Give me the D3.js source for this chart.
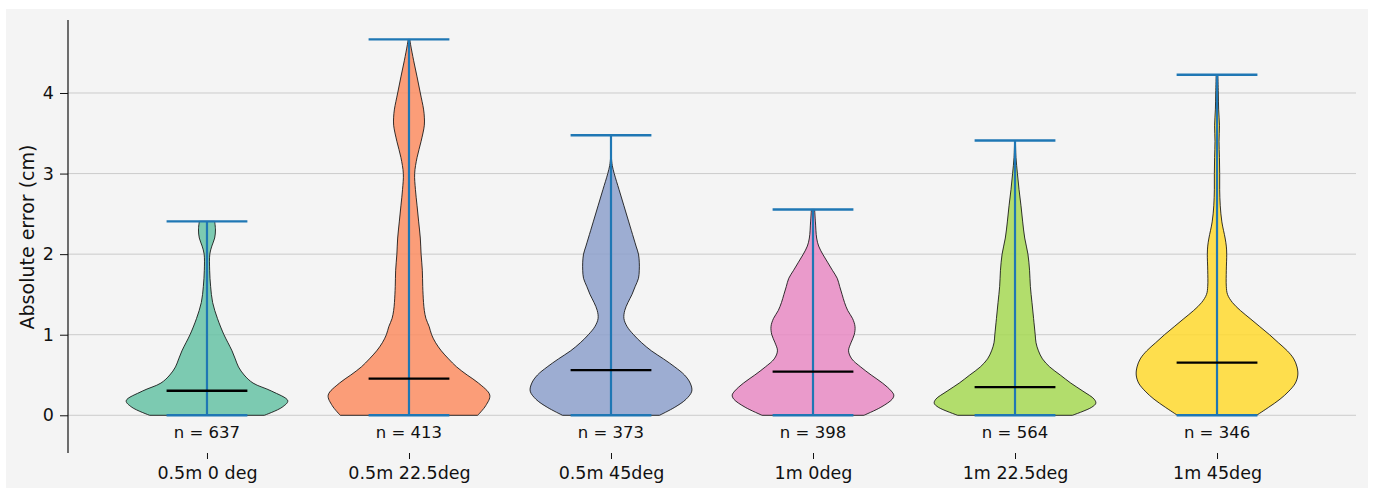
<!DOCTYPE html>
<html>
<head>
<meta charset="utf-8">
<script src="https://cdn.jsdelivr.net/npm/d3@7/dist/d3.min.js"></script>
<style>
  html, body { margin: 0; padding: 0; background: #ffffff; }
  svg { display: block; font-family: "DejaVu Sans", sans-serif; }
</style>
</head>
<body>
<svg id="chart" width="1375" height="489"></svg>
<script>
// Conditions compared
const categories = ["0.5m 0 deg", "0.5m 22.5deg", "0.5m 45deg", "1m 0deg", "1m 22.5deg", "1m 45deg"];
const sampleCounts = [637, 413, 373, 398, 564, 346];
const minima = [0, 0, 0, 0, 0, 0];
const maxima = [2.407, 4.665, 3.475, 2.555, 3.41, 4.227];
const medians = [0.305, 0.455, 0.56, 0.542, 0.35, 0.654];
const fillColors = ["#66c2a5", "#fc8d62", "#8da0cb", "#e78ac3", "#a6d854", "#ffd92f"];
const yTicks = [0, 1, 2, 3, 4];

// Kernel density profiles: [error (cm), density relative to the violin's peak]
const density0 = [[0,0.71],[0.1,0.93],[0.18,1.0],[0.3,0.8],[0.4,0.57],[0.5,0.46],[0.6,0.39],[0.7,0.35],[0.8,0.31],[0.9,0.26],[1.0,0.21],[1.2,0.13],[1.4,0.07],[1.6,0.045],[1.8,0.033],[2.0,0.035],[2.1,0.06],[2.2,0.095],[2.3,0.105],[2.407,0.095]];
const density1 = [[0,0.85],[0.12,0.95],[0.25,1.0],[0.4,0.86],[0.5,0.72],[0.6,0.59],[0.7,0.49],[0.8,0.4],[0.9,0.33],[1.0,0.28],[1.1,0.25],[1.2,0.21],[1.3,0.19],[1.4,0.18],[1.6,0.17],[1.8,0.165],[2.0,0.15],[2.2,0.14],[2.4,0.12],[2.6,0.1],[2.8,0.08],[3.0,0.07],[3.2,0.1],[3.4,0.15],[3.6,0.19],[3.7,0.19],[3.8,0.18],[4.0,0.14],[4.2,0.1],[4.4,0.058],[4.6,0.02],[4.665,0.01]];
const density2 = [[0,0.6],[0.1,0.79],[0.2,0.93],[0.3,1.0],[0.4,0.98],[0.5,0.91],[0.6,0.79],[0.7,0.65],[0.8,0.5],[0.9,0.38],[1.0,0.28],[1.1,0.2],[1.2,0.16],[1.3,0.17],[1.4,0.21],[1.5,0.26],[1.6,0.3],[1.7,0.34],[1.8,0.35],[1.9,0.35],[2.0,0.34],[2.1,0.31],[2.2,0.28],[2.4,0.22],[2.6,0.16],[2.8,0.1],[3.0,0.04],[3.1,0.016],[3.2,0.005],[3.475,0.0]];
const density3 = [[0,0.63],[0.1,0.84],[0.2,0.98],[0.25,1.0],[0.3,0.97],[0.4,0.86],[0.5,0.72],[0.6,0.59],[0.7,0.48],[0.8,0.44],[0.9,0.47],[1.0,0.51],[1.1,0.52],[1.2,0.49],[1.3,0.43],[1.4,0.39],[1.5,0.36],[1.6,0.33],[1.7,0.3],[1.8,0.24],[1.9,0.18],[2.0,0.12],[2.1,0.07],[2.2,0.045],[2.4,0.03],[2.555,0.02]];
const density4 = [[0,0.71],[0.1,0.95],[0.15,1.0],[0.2,0.98],[0.3,0.84],[0.4,0.69],[0.5,0.56],[0.6,0.43],[0.7,0.34],[0.8,0.29],[0.9,0.26],[1.0,0.25],[1.2,0.23],[1.4,0.21],[1.6,0.19],[1.8,0.18],[2.0,0.16],[2.2,0.12],[2.4,0.095],[2.6,0.074],[2.8,0.05],[3.0,0.03],[3.2,0.012],[3.41,0.005]];
const density5 = [[0,0.49],[0.1,0.64],[0.2,0.78],[0.3,0.89],[0.4,0.97],[0.5,1.0],[0.6,0.99],[0.7,0.95],[0.8,0.87],[0.9,0.76],[1.0,0.65],[1.1,0.53],[1.2,0.41],[1.3,0.29],[1.4,0.19],[1.5,0.13],[1.6,0.115],[1.8,0.115],[2.0,0.12],[2.1,0.115],[2.2,0.1],[2.4,0.06],[2.6,0.04],[2.8,0.033],[3.0,0.033],[3.2,0.03],[3.4,0.025],[3.6,0.03],[3.8,0.02],[4.0,0.016],[4.227,0.01]];
const densities = [density0, density1, density2, density3, density4, density5];

const svg = d3.select("#chart");

// Figure background panel
svg.append("rect")
  .attr("x", 6).attr("y", 9).attr("width", 1362).attr("height", 479)
  .attr("fill", "#f4f4f4");

const plotLeft = 68, plotRight = 1356, plotTop = 20, plotBottom = 453;

const x = d3.scalePoint().domain(categories).range([plotLeft, plotRight]).padding(0.688);
const y = d3.scaleLinear().domain([-0.468, 4.906]).range([plotBottom, plotTop]);
const halfWidth = d3.scaleLinear().domain([0, 1]).range([0, 0.4 * x.step()]);
const capHalf = 0.2 * x.step();

// Horizontal grid
svg.append("g").selectAll("line").data(yTicks).join("line")
  .attr("x1", plotLeft).attr("x2", plotRight)
  .attr("y1", d => y(d)).attr("y2", d => y(d))
  .attr("stroke", "#cbcbcb").attr("stroke-width", 1);

// Y axis
const yAxis = d3.axisLeft(y).tickValues(yTicks).tickFormat(d3.format("d")).tickSize(8).tickPadding(6);
const yg = svg.append("g").attr("transform", `translate(${plotLeft},0)`).call(yAxis);
yg.select(".domain").attr("d", `M0,${plotTop}V${plotBottom}`).attr("stroke", "#111").attr("stroke-width", 1.2);
yg.selectAll(".tick line").attr("stroke", "#111").attr("stroke-width", 1);
yg.selectAll(".tick text").attr("fill", "#111").style("font-size", "17.5px").style("font-family", "DejaVu Sans");

// X axis (ticks and labels only)
const xAxis = d3.axisBottom(x).tickSize(6).tickPadding(8);
const xg = svg.append("g").attr("transform", `translate(0,${plotBottom})`).call(xAxis);
xg.select(".domain").remove();
xg.selectAll(".tick line").attr("stroke", "#111").attr("stroke-width", 1);
xg.selectAll(".tick text").attr("fill", "#111").style("font-size", "17.5px").style("font-family", "DejaVu Sans");

// Y label
svg.append("text")
  .attr("transform", "translate(34,237) rotate(-90)")
  .attr("text-anchor", "middle")
  .attr("fill", "#111")
  .style("font-size", "19px")
  .text("Absolute error (cm)");

// Violins
const violinArea = (cx) => d3.area()
  .y(d => y(d[0]))
  .x0(d => cx - halfWidth(d[1]))
  .x1(d => cx + halfWidth(d[1]))
  .curve(d3.curveCatmullRom.alpha(0.5));

const groups = svg.append("g").selectAll("g").data(categories).join("g");

groups.append("path")
  .attr("d", (c, i) => violinArea(x(c))(densities[i]))
  .attr("fill", (c, i) => fillColors[i])
  .attr("fill-opacity", 0.85)
  .attr("stroke", "#111")
  .attr("stroke-opacity", 0.85)
  .attr("stroke-width", 1);

// Range stems
groups.append("line")
  .attr("x1", c => x(c)).attr("x2", c => x(c))
  .attr("y1", (c, i) => y(minima[i])).attr("y2", (c, i) => y(maxima[i]))
  .attr("stroke", "#1f77b4").attr("stroke-width", 2.2);

// Min / max caps
groups.append("line")
  .attr("x1", c => x(c) - capHalf).attr("x2", c => x(c) + capHalf)
  .attr("y1", (c, i) => y(maxima[i])).attr("y2", (c, i) => y(maxima[i]))
  .attr("stroke", "#1f77b4").attr("stroke-width", 2.4);
groups.append("line")
  .attr("x1", c => x(c) - capHalf).attr("x2", c => x(c) + capHalf)
  .attr("y1", (c, i) => y(minima[i])).attr("y2", (c, i) => y(minima[i]))
  .attr("stroke", "#1f77b4").attr("stroke-width", 2.4);

// Medians
groups.append("line")
  .attr("x1", c => x(c) - capHalf).attr("x2", c => x(c) + capHalf)
  .attr("y1", (c, i) => y(medians[i])).attr("y2", (c, i) => y(medians[i]))
  .attr("stroke", "#000").attr("stroke-width", 2.4);

// Sample counts
groups.append("text")
  .attr("x", c => x(c))
  .attr("y", y(0) + 23)
  .attr("text-anchor", "middle")
  .attr("fill", "#111")
  .style("font-size", "16.5px")
  .text((c, i) => `n = ${sampleCounts[i]}`);
</script>
</body>
</html>
